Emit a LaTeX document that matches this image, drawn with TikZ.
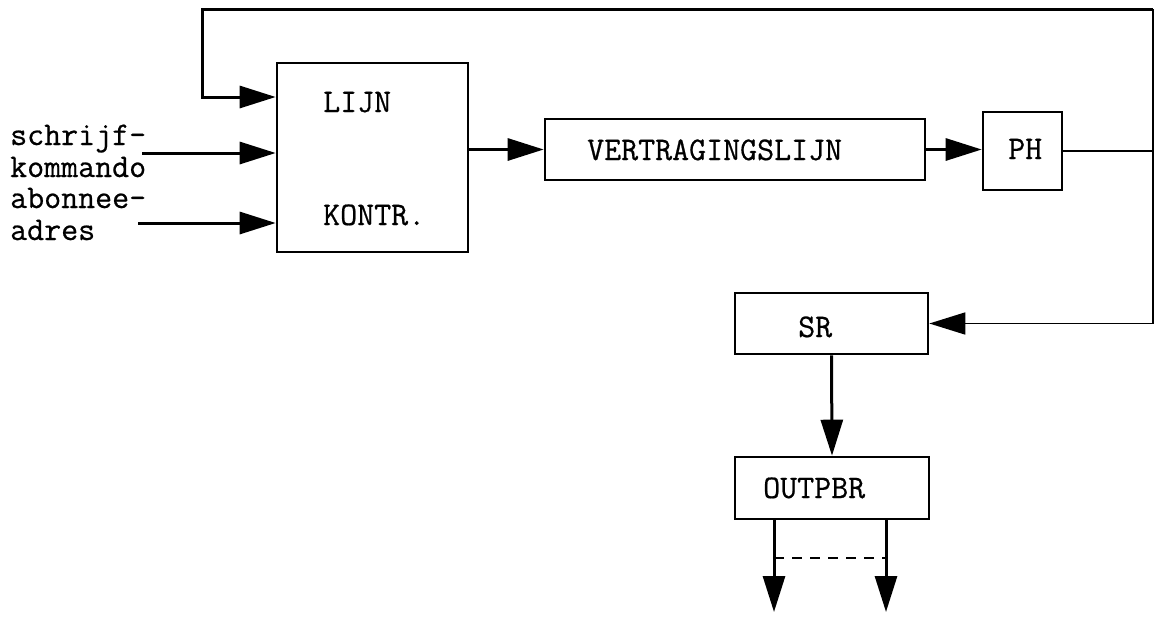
\documentclass[tikz,border=0pt]{standalone}
\usepackage{fontspec}
\newfontfamily\typewriter{Latin Modern Mono}[FakeBold=0.6]
\usetikzlibrary{arrows.meta}
\begin{document}
\begin{tikzpicture}[x=1pt,y=-1pt,
  blok/.style={draw, line width=2.6pt, inner sep=0, rectangle},
  txt/.style={inner sep=0, anchor=base west, font=\fontsize{33}{38}\selectfont\typewriter},
  wire/.style={line width=3pt},
  fine/.style={line width=1.7pt},
  pijl/.style={-{Triangle[length=36pt,width=22pt]}},
  line join=miter]
\useasboundingbox (0,0) rectangle (1154,616);

% blocks
\node[blok, minimum width=191pt, minimum height=189pt] (lijn)  at (372.5,157.5) {};
\node[blok, minimum width=380pt, minimum height=61pt]  (vertr) at (735,149.5) {};
\node[blok, minimum width=79pt,  minimum height=78pt]  (ph)    at (1022.5,151) {};
\node[blok, minimum width=193pt, minimum height=61pt]  (sr)    at (831.5,323.5) {};
\node[blok, minimum width=194pt, minimum height=62pt]  (outp)  at (832,488) {};

% block texts
\node[txt] (tLijn)  at (323,112) {LIJN};
\node[txt] (tKontr) at (323,225) {KONTR.};
\node[txt] (tVertr) at (587,160) {VERTRAGINGSLIJN};
\node[txt] (tPh)    at (1008,159) {PH};
\node[txt] (tSr)    at (798,337) {SR};
\node[txt] (tOutp)  at (763,498) {OUTPBR};

% input labels
\node[txt] (l1) at (10,145) {schrijf-};
\node[txt] (l2) at (10,177) {kommando};
\node[txt] (l3) at (10,208) {abonnee-};
\node[txt] (l4) at (10,240) {adres};

% corner points of the feedback loop and free wire ends
\coordinate (fbR) at (1153,9);
\coordinate (fbL) at (202,9);
\coordinate (fbIn) at (202,97);
\coordinate (in1) at (142,153);
\coordinate (in2) at (138,223);
\coordinate (o1) at (774,612);
\coordinate (o2) at (886,612);
\coordinate (d1) at (774,558);

% inputs of the line control
\draw[wire, pijl] (fbR) -- (fbL) -- (fbIn) -- (fbIn -| lijn.west);
\draw[wire, pijl] (in1) -- (in1 -| lijn.west);
\draw[wire, pijl] (in2) -- (in2 -| lijn.west);

% main chain
\draw[wire, pijl] (lijn.east |- vertr.west) -- (vertr.west);
\draw[wire, pijl] (vertr.east) -- (vertr.east -| ph.west);

% return path to the shift register
\draw[fine] (ph.east) -- (ph.east -| fbR);
\draw[fine, pijl] (fbR) -- (fbR |- sr.east) -- (sr.east);

% shift register to output buffer
\draw[wire, pijl] (sr.south) -- (outp.north);

% outputs
\draw[wire, pijl] (o1 |- outp.south) -- (o1);
\draw[wire, pijl] (o2 |- outp.south) -- (o2);
\draw[line width=2pt, dash pattern=on 10pt off 8pt] (d1) -- (d1 -| o2);
\end{tikzpicture}
\end{document}
